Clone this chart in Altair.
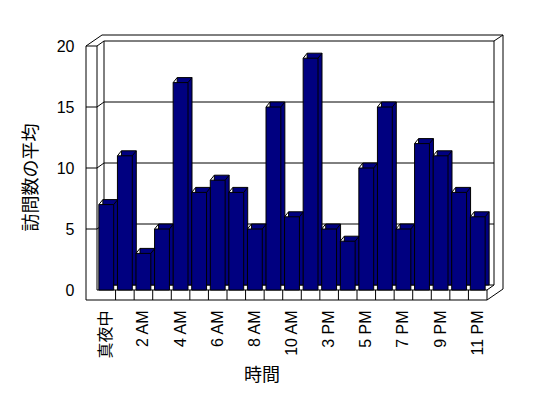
import altair as alt
import pandas as pd

# ---- data ----
hours = ["真夜中", "1 AM", "2 AM", "3 AM", "4 AM", "5 AM", "6 AM", "7 AM", "8 AM",
         "9 AM", "10 AM", "11 AM", "3 PM", "4 PM", "5 PM", "6 PM", "7 PM", "8 PM",
         "9 PM", "10 PM", "11 PM"]
visits = [7, 11, 3, 5, 17, 8, 9, 8, 5, 15, 6, 19, 5, 4, 10, 15, 5, 12, 11, 8, 6]
y_ticks = [0, 5, 10, 15, 20]
grid_levels = [5, 10, 15, 20]
x_labels = hours[::2]

# ---- style / geometry ----
FONT = "Liberation Sans, Noto Sans CJK JP, sans-serif"
TFONT = "Noto Sans CJK JP, sans-serif"
NAVY = "#000080"
W, H = 390, 244
DX, DY = 7, -5        # depth to back wall
DX2, DY2 = 16, -11    # depth to outer frame
WALL, FLOOR = 11, 10  # wall / floor thickness
BDX, BDY = 4, -5      # bar depth
GAP = W / len(hours) * 0.2 / 2

df = pd.DataFrame({"hour": hours, "visits": visits})
grid_df = pd.DataFrame({"v": grid_levels})
one = pd.DataFrame({"k": [0]})

x_scale = alt.Scale(paddingInner=0.2, paddingOuter=0.1)
y_scale = alt.Scale(domain=[0, 20], nice=False)


def seg(x1, v1, o1, x2, v2, o2):
    return alt.Chart(one).mark_rule(
        color="black", strokeWidth=1, yOffset=o1, y2Offset=o2
    ).encode(
        x=alt.value(x1), x2=alt.value(x2), y=alt.datum(v1), y2=alt.datum(v2)
    )


frame = [
    seg(-WALL, 20, 0, -WALL, 0, FLOOR),            # outer left
    seg(0, 20, 0, 0, 0, 0),                         # inner left
    seg(-WALL, 20, 0, -WALL + DX2, 20, DY2),        # top-left outer diag
    seg(-WALL + DX2, 20, DY2, W + DX2, 20, DY2),    # outer top
    seg(W + DX, 20, DY, W + DX2, 20, DY2),          # top-right diag
    seg(W + DX2, 20, DY2, W + DX2, 0, FLOOR + DY2), # outer right
    seg(W + DX, 20, DY, W + DX, 0, DY),             # back wall right
    seg(DX, 20, DY, DX, 0, DY),                     # back wall left
    seg(DX, 0, DY, W + DX, 0, DY),                  # floor back edge
    seg(0, 0, 0, W, 0, 0),                          # floor top front
    seg(-WALL, 0, FLOOR, W, 0, FLOOR),              # floor bottom
    seg(W, 0, 0, W, 0, FLOOR),                      # floor right front
    seg(W, 0, FLOOR, W + DX2, 0, FLOOR + DY2),      # floor bottom-right diag
    seg(W, 0, 0, W + DX, 0, DY),                    # floor top-right diag
]

grid_base = alt.Chart(grid_df)
grids = [
    grid_base.mark_rule(color="black").encode(
        x=alt.value(-WALL), x2=alt.value(0), y=alt.Y("v:Q", scale=y_scale)),
    grid_base.mark_rule(color="black", y2Offset=DY).encode(
        x=alt.value(0), x2=alt.value(DX), y=alt.Y("v:Q", scale=y_scale), y2="v"),
    grid_base.mark_rule(color="black", yOffset=DY).encode(
        x=alt.value(DX), x2=alt.value(W + DX), y=alt.Y("v:Q", scale=y_scale)),
]

base = alt.Chart(df)

x_axis = alt.Axis(
    values=x_labels, labelAngle=-90, labelAlign="right", labelBaseline="middle",
    labelPadding=20, ticks=False, tickSize=0, domain=False, grid=False,
    labelFont=FONT, labelFontSize=16, labelColor="black",
    title="時間", titleFont=TFONT, titleFontSize=18, titleFontWeight="normal",
    titleColor="black", titleX=164.5, titleY=85.5, titleAlign="center",
    titleBaseline="middle",
)
y_axis = alt.Axis(
    values=y_ticks, ticks=False, tickSize=0, domain=False, grid=False,
    labelPadding=23, labelFont=FONT, labelFontSize=16, labelColor="black",
    title="訪問数の平均", titleFont=TFONT, titleFontSize=18,
    titleFontWeight="normal", titleColor="black", titleX=-66, titleY=131,
    titleAlign="center", titleBaseline="middle", titleAngle=270,
)

x_enc = alt.X("hour:N", sort=hours, scale=x_scale, axis=x_axis)
y_enc = alt.Y("visits:Q", scale=y_scale, axis=y_axis)

floor_ticks = base.transform_filter(alt.datum.hour != hours[0]).mark_rule(
    color="black", xOffset=-GAP, y2Offset=FLOOR
).encode(
    x=alt.X("hour:N", sort=hours, bandPosition=0),
    y=alt.datum(0), y2=alt.datum(0),
)

bar_back = base.mark_bar(
    color=NAVY, stroke="black", strokeWidth=1, xOffset=BDX, yOffset=BDY, y2Offset=0
).encode(x=x_enc, y=y_enc)

bar_front = base.mark_bar(
    color=NAVY, stroke="black", strokeWidth=1
).encode(x=x_enc, y=y_enc)

diag_l = base.mark_rule(color="black", x2Offset=BDX, y2Offset=BDY).encode(
    x=alt.X("hour:N", sort=hours, bandPosition=0),
    x2=alt.X2("hour", bandPosition=0),
    y=alt.Y("visits:Q"), y2=alt.Y2("visits"),
)
diag_r = base.mark_rule(color="black", x2Offset=BDX, y2Offset=BDY).encode(
    x=alt.X("hour:N", sort=hours, bandPosition=1),
    x2=alt.X2("hour", bandPosition=1),
    y=alt.Y("visits:Q"), y2=alt.Y2("visits"),
)

chart = alt.layer(
    *grids, *frame, floor_ticks, bar_back, bar_front, diag_l, diag_r
).properties(
    width=W, height=H,
    padding={"left": 97, "top": 46, "right": 61, "bottom": 108},
    autosize=alt.AutoSizeParams(type="none"),
    background="white",
).configure_view(stroke=None)

chart.save("out.html", embed_options={"renderer": "svg", "actions": False})
